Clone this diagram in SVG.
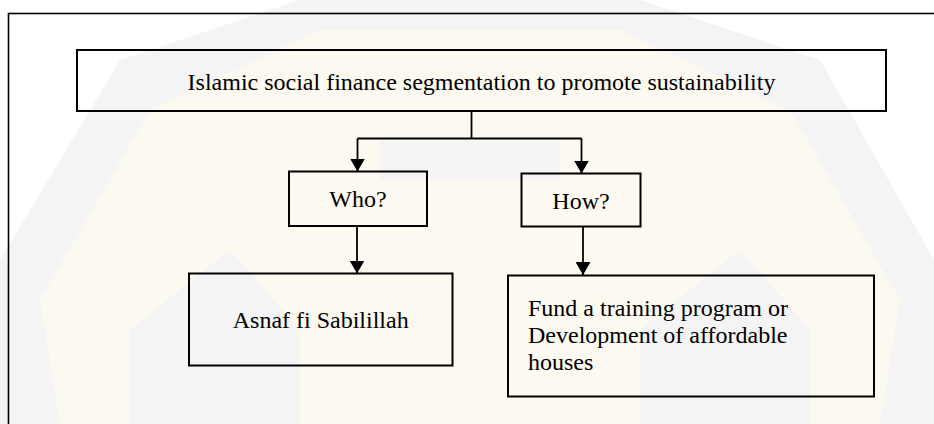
<svg xmlns="http://www.w3.org/2000/svg" width="934" height="424" viewBox="0 0 934 424">
<defs>
<style>
.box{fill:none;stroke:#000;stroke-width:2}
.frame{fill:none;stroke:#000;stroke-width:1.6}
.conn{fill:none;stroke:#000;stroke-width:1.8}
text{font-family:'Liberation Serif','Times New Roman',Times,'DejaVu Serif',serif;font-size:24px;fill:#000}
.wm1{fill:#fcf9f0}
.wm2{fill:#f4f4f4}
</style>
<marker id="ah" viewBox="0 0 13 15" refX="13" refY="7.5" markerWidth="13" markerHeight="15" markerUnits="userSpaceOnUse" orient="auto">
<path d="M0,0 L13,7.5 L0,15 z" fill="#000"/>
</marker>
</defs>
<rect x="0" y="0" width="934" height="424" fill="#ffffff"/>
<g id="watermark">
<path class="wm2" d="M0,424 L0,260 L120,60 L300,0 L640,0 L820,60 L934,260 L934,424 z"/>
<path class="wm1" d="M60,424 L40,300 L150,110 L320,30 L620,30 L790,110 L900,300 L880,424 z"/>
<path class="wm2" d="M130,424 L130,330 L230,250 L300,330 L300,424 z"/>
<path class="wm2" d="M640,424 L640,330 L740,250 L810,330 L810,424 z"/>
<path class="wm2" d="M380,140 L560,140 L560,180 L380,180 z" opacity="0.8"/>
</g>
<rect class="frame" x="8.5" y="13.5" width="940" height="420"/>
<g id="connectors">
<path class="conn" d="M471.5,111 V138.5"/>
<path class="conn" d="M357.5,138.5 H581.5"/>
<path class="conn" d="M357.5,138.5 V171.5" marker-end="url(#ah)"/>
<path class="conn" d="M581.5,138.5 V173.5" marker-end="url(#ah)"/>
<path class="conn" d="M357,226 V273.5" marker-end="url(#ah)"/>
<path class="conn" d="M583,226.5 V275" marker-end="url(#ah)"/>
</g>
<g id="node-top">
<rect class="box" x="77" y="50" width="809" height="61"/>
<text x="481.5" y="90" text-anchor="middle">Islamic social finance segmentation to promote sustainability</text>
</g>
<g id="node-who">
<rect class="box" x="289" y="171.5" width="138" height="54.5"/>
<text x="358" y="207" text-anchor="middle">Who?</text>
</g>
<g id="node-how">
<rect class="box" x="521.5" y="173.5" width="119" height="53"/>
<text x="581" y="209" text-anchor="middle">How?</text>
</g>
<g id="node-asnaf">
<rect class="box" x="189" y="273.5" width="263.5" height="92"/>
<text x="320.7" y="328" text-anchor="middle">Asnaf fi Sabilillah</text>
</g>
<g id="node-fund">
<rect class="box" x="508" y="275.5" width="366" height="121"/>
<text x="528" y="316">Fund a training program or</text>
<text x="528" y="343">Development of affordable</text>
<text x="528" y="370">houses</text>
</g>
</svg>
